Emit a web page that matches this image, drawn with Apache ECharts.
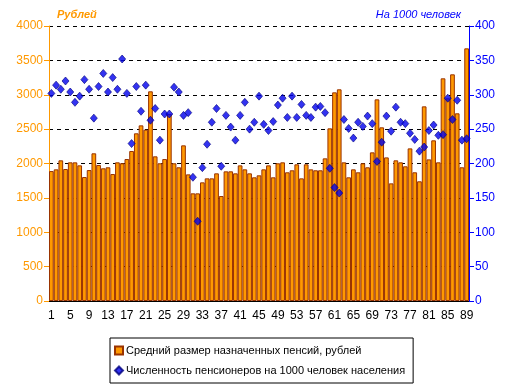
<!DOCTYPE html>
<html><head><meta charset="utf-8">
<script src="https://cdn.jsdelivr.net/npm/echarts@6/dist/echarts.min.js"></script>
<style>html,body{margin:0;padding:0;background:#fff}#c{width:512px;height:388px}</style>
</head><body><div id="c"></div>
<script>
const categories = Array.from({length: 89}, (_, i) => String(i + 1));
const pensionRub = [
 1890,1915,2046,1920,2017,2017,1973,1803,1905,2148,
 1978,1930,1945,1847,2017,2003,2065,2182,2439,2555,
 2492,3050,2104,2003,2065,2720,2003,1945,2264,1842,
 1566,1566,1726,1784,1784,1857,1527,1886,1886,1857,
 1973,1915,1857,1799,1828,1915,1973,1799,2003,2017,
 1872,1901,1988,1784,1988,1915,1901,1901,2075,2511,
 3035,3079,2017,1799,1915,1872,2003,1945,2162,2933,
 2526,2089,1711,2046,2017,1959,2220,1872,1741,2831,
 2060,2337,2017,3239,2948,3297,2730,1945,3675];
const pensionersPer1000 = [
 302,314,308,320,304,289,298,322,308,266,
 312,331,304,325,308,352,302,229,312,276,
 314,263,280,234,272,272,311,304,270,274,
 180,116,194,228,260,280,196,270,253,234,
 270,289,250,260,298,257,248,261,285,295,
 267,298,267,286,270,267,282,283,274,193,
 165,157,264,251,237,260,254,269,258,203,
 231,269,247,282,260,258,244,235,218,224,
 248,256,241,242,295,264,292,234,236];
const leftTicks = {min: 0, max: 4000, interval: 500};
const rightTicks = {min: 0, max: 400, interval: 50};

const chart = echarts.init(document.getElementById('c'), null, {renderer: 'canvas'});
const font = 'Liberation Sans, Arial, sans-serif';
chart.setOption({
  animation: false,
  grid: {left: 49, right: 43, top: 26, bottom: 87},
  legend: {
    orient: 'vertical', left: 110, top: 338, width: 290,
    borderColor: '#000', borderWidth: 1, padding: [7, 8, 7, 4], itemGap: 9,
    itemWidth: 8, itemHeight: 8,
    textStyle: {fontFamily: font, fontSize: 11, color: '#000', padding: [0, 0, 0, -2]},
    data: [
      {name: 'Средний размер назначенных пенсий, рублей', icon: 'rect'},
      {name: 'Численность пенсионеров на 1000 человек населения', icon: 'diamond'}
    ]
  },
  xAxis: {
    type: 'category', data: categories,
    axisLine: {lineStyle: {color: '#000', width: 1}},
    axisTick: {show: false},
    axisLabel: {interval: 3, color: '#000', fontFamily: font, fontSize: 12, margin: 9},
    splitLine: {show: false}
  },
  yAxis: [
    {type: 'value', min: leftTicks.min, max: leftTicks.max, interval: leftTicks.interval,
     name: 'Рублей', nameLocation: 'end', nameGap: 6,
     nameTextStyle: {color: '#FF9900', fontStyle: 'italic', fontWeight: 'bold', fontFamily: font, fontSize: 11, align: 'left', padding: [0, 0, 0, 8]},
     axisLine: {show: true, lineStyle: {color: '#FF9900'}},
     axisTick: {show: true, length: 5, lineStyle: {color: '#FF9900'}},
     axisLabel: {color: '#FF9900', fontFamily: font, fontSize: 12, margin: 6, formatter: v => String(v)},
     splitLine: {show: true, lineStyle: {color: '#000', type: [4, 4], width: 1}}},
    {type: 'value', min: rightTicks.min, max: rightTicks.max, interval: rightTicks.interval,
     name: 'На 1000 человек', nameLocation: 'end', nameGap: 6,
     nameTextStyle: {color: '#0000FF', fontStyle: 'italic', fontFamily: font, fontSize: 11, align: 'right', padding: [0, 8, 0, 0]},
     axisLine: {show: true, lineStyle: {color: '#0000FF'}},
     axisTick: {show: true, length: 5, lineStyle: {color: '#0000FF'}},
     axisLabel: {color: '#0000FF', fontFamily: font, fontSize: 12, margin: 6, formatter: v => String(v)},
     splitLine: {show: false}}
  ],
  series: [
    {name: 'Средний размер назначенных пенсий, рублей', type: 'bar', data: pensionRub,
     yAxisIndex: 0, barCategoryGap: '0%',
     itemStyle: {color: '#FF9900', borderColor: '#993300', borderWidth: 1}},
    {name: 'Численность пенсионеров на 1000 человек населения', type: 'scatter', data: pensionersPer1000,
     yAxisIndex: 1, symbol: 'diamond', symbolSize: [7, 8], z: 5,
     itemStyle: {color: '#0000EE', borderColor: '#000080', borderWidth: 0.8}}
  ]
});
</script></body></html>
